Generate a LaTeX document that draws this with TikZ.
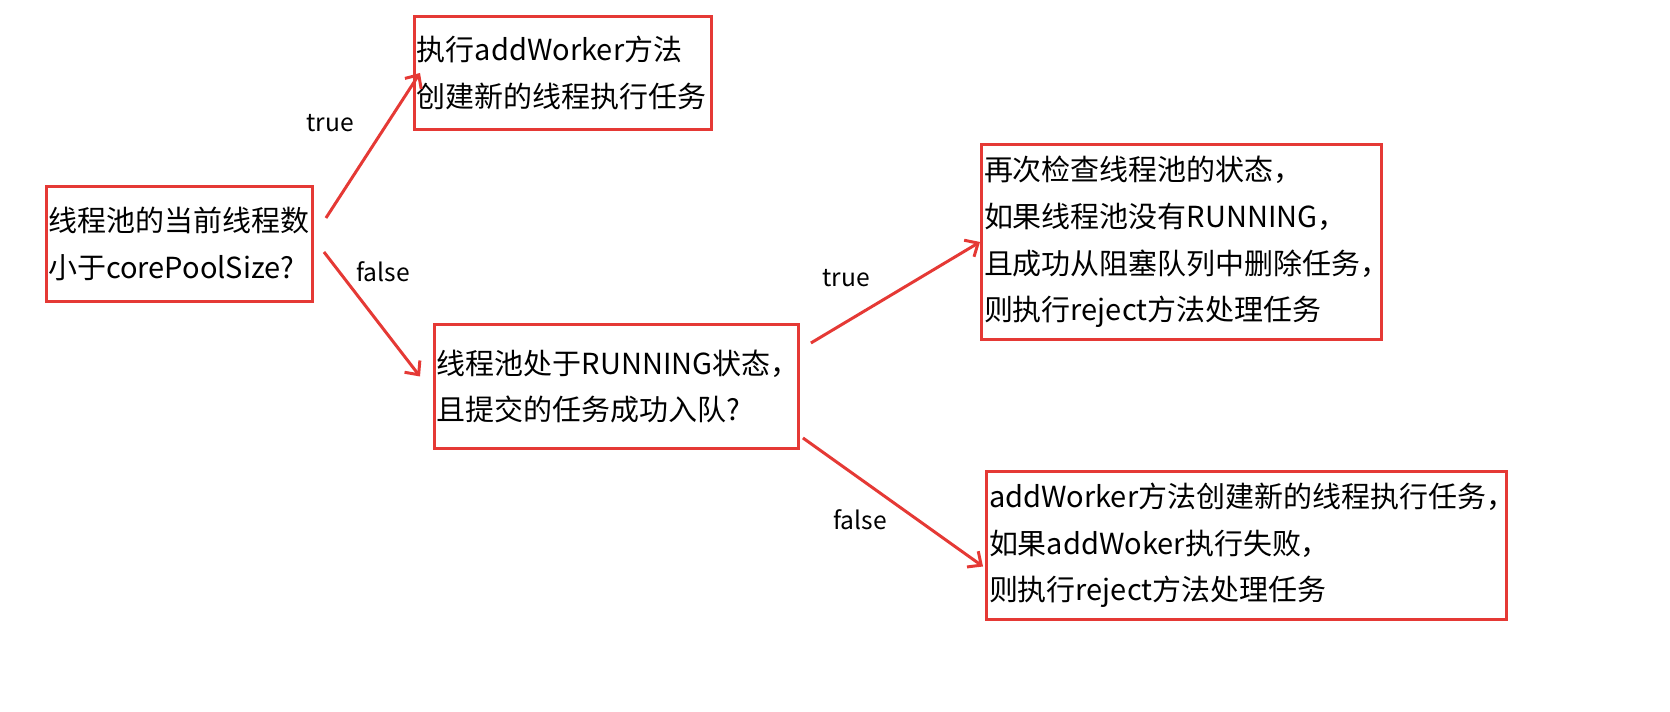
\documentclass[tikz,border=0pt]{standalone}
\usepackage{fontspec}
\setmainfont{Noto Sans CJK SC}
\usetikzlibrary{calc,arrows.meta}
\definecolor{boxred}{RGB}{229,57,53}
\tikzset{
  stepbox/.style={draw=boxred, line width=1.7pt, anchor=north west, align=left,
    inner sep=1pt, font=\fontsize{16.5}{26.5}\selectfont},
  flow/.style={draw=boxred, line width=1.7pt, -{Straight Barb[length=6pt,width=11pt]}},
  lbl/.style={font=\fontsize{14}{15}\selectfont}
}
\begin{document}
\begin{tikzpicture}[x=0.02cm, y=-0.02cm]
    \useasboundingbox (0,0) rectangle (1670,712);
    % Kaesten.
    \node[stepbox, minimum width=5.3cm, text width=5.25cm, minimum height=2.3cm] (pool) at (45,185) {线程池的当前线程数\\小于corePoolSize?};
    \node[stepbox, minimum width=5.94cm, text width=5.84cm, minimum height=2.26cm] (add) at (413,15) {执行addWorker方法\\创建新的线程执行任务};
    \node[stepbox, minimum width=7.28cm, text width=7.18cm, minimum height=2.48cm] (queue) at (433,323) {线程池处于RUNNING状态，\\且提交的任务成功入队?};
    \node[stepbox, minimum width=8cm, text width=7.9cm, minimum height=3.9cm] (recheck) at (980,143) {再次检查线程池的状态，\\如果线程池没有RUNNING，\\且成功从阻塞队列中删除任务，\\则执行reject方法处理任务};
    \node[stepbox, minimum width=10.4cm, text width=10.3cm, minimum height=2.96cm] (retry) at (985,470) {addWorker方法创建新的线程执行任务，\\如果addWoker执行失败，\\则执行reject方法处理任务};
    % Pfeile.
    \draw[flow] ($(pool.north east)+(12,33)$) -- ($(add.west)+(7,0)$);
    \draw[flow] ($(pool.east)+(10,8)$) -- ($(queue.west)+(-13,-10)$);
    \draw[flow] ($(queue.north east)+(11,20)$) -- (recheck.west);
    \draw[flow] ($(queue.south east)+(3,-12)$) -- ($(retry.west)+(-2,21)$);
    % Beschriftung.
    \node[lbl] (t1) at (330,123) {true};
    \node[lbl] (f1) at (383,272) {false};
    \node[lbl] (t2) at (846,278) {true};
    \node[lbl] (f2) at (860,520) {false};
\end{tikzpicture}
\end{document}
